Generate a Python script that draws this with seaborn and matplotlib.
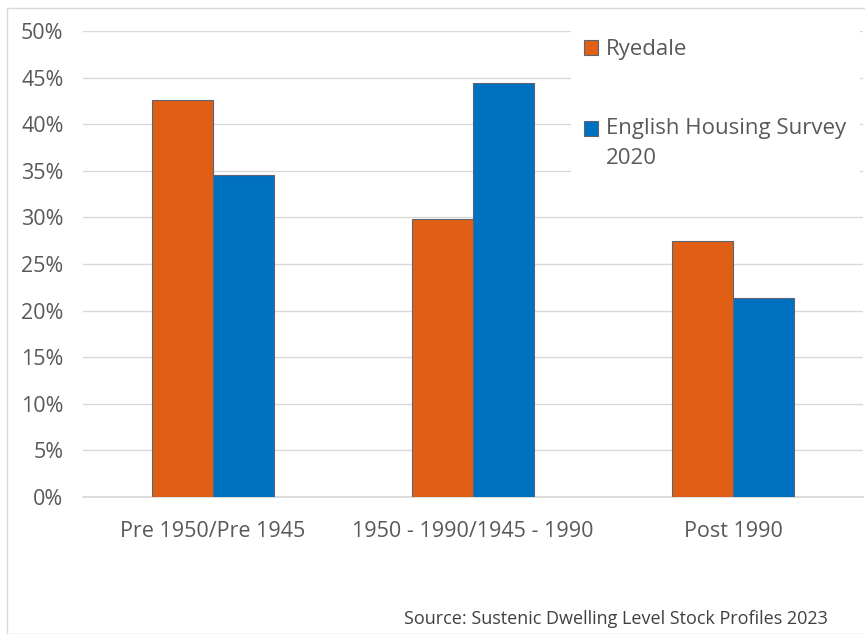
import matplotlib
matplotlib.use("Agg")
import matplotlib.pyplot as plt
import seaborn as sns
import pandas as pd
from matplotlib.patches import Rectangle
from matplotlib.ticker import PercentFormatter

categories = ["Pre 1950/Pre 1945", "1950 - 1990/1945 - 1990", "Post 1990"]
ryedale = [0.426, 0.298, 0.275]
ehs = [0.345, 0.444, 0.213]
series_names = ["Ryedale", "English Housing Survey\n2020"]
colors = ["#E05F15", "#0070C0"]

df = pd.DataFrame({
    "Period": categories * 2,
    "Share": ryedale + ehs,
    "Series": [series_names[0]] * 3 + [series_names[1]] * 3,
})

sns.set_theme(style="white")
plt.rcParams["font.family"] = ["Open Sans", "DejaVu Sans"]

fig = plt.figure(figsize=(8.65, 6.34), dpi=100)
ax = fig.add_axes([83 / 865, 1 - 497 / 634, 780 / 865, 466 / 634])

sns.barplot(data=df, x="Period", y="Share", hue="Series", palette=colors,
            saturation=1, width=0.47, edgecolor="#5a6473", linewidth=0.8,
            ax=ax, zorder=3)

ax.set_ylim(0, 0.5)
ax.set_xlim(-0.5, 2.5)
ax.set_yticks([i * 0.05 for i in range(11)])
ax.yaxis.set_major_formatter(PercentFormatter(1.0, decimals=0))
ax.grid(axis="y", color="#d9d9d9", linewidth=1, zorder=0)
ax.set_axisbelow(True)
for s in ["top", "right", "left"]:
    ax.spines[s].set_visible(False)
ax.spines["bottom"].set_color("#d9d9d9")
ax.set_xlabel("")
ax.set_ylabel("")
ax.tick_params(axis="both", length=0, labelsize=15.5, labelcolor="#595959")
ax.tick_params(axis="y", pad=14)
ax.tick_params(axis="x", pad=17)

leg = ax.legend(loc="upper left", bbox_to_anchor=(0.625, 1.011), frameon=True,
                fontsize=16, labelcolor="#595959", handlelength=0.65,
                handleheight=0.65, handletextpad=0.35, labelspacing=2.6,
                borderaxespad=0, borderpad=0.6)
for t in leg.get_texts():
    t.set_linespacing(1.56)
leg.get_frame().set_edgecolor("none")
leg.get_frame().set_facecolor("white")
leg.get_frame().set_alpha(1)
# align the second handle with the first line of its label
h2 = leg.legend_handles[1]
h2.set_y(h2.get_y() + 10.8)

fig.text(828 / 865, 1 - 619 / 634, "Source: Sustenic Dwelling Level Stock Profiles 2023",
         ha="right", va="center", fontsize=13, color="#404040")

fig.patches.append(Rectangle((7 / 865, 0), 860 / 865, 1 - 8 / 634,
                             transform=fig.transFigure, fill=False,
                             edgecolor="#d9d9d9", linewidth=1))

fig.savefig("out.png", dpi=100)
